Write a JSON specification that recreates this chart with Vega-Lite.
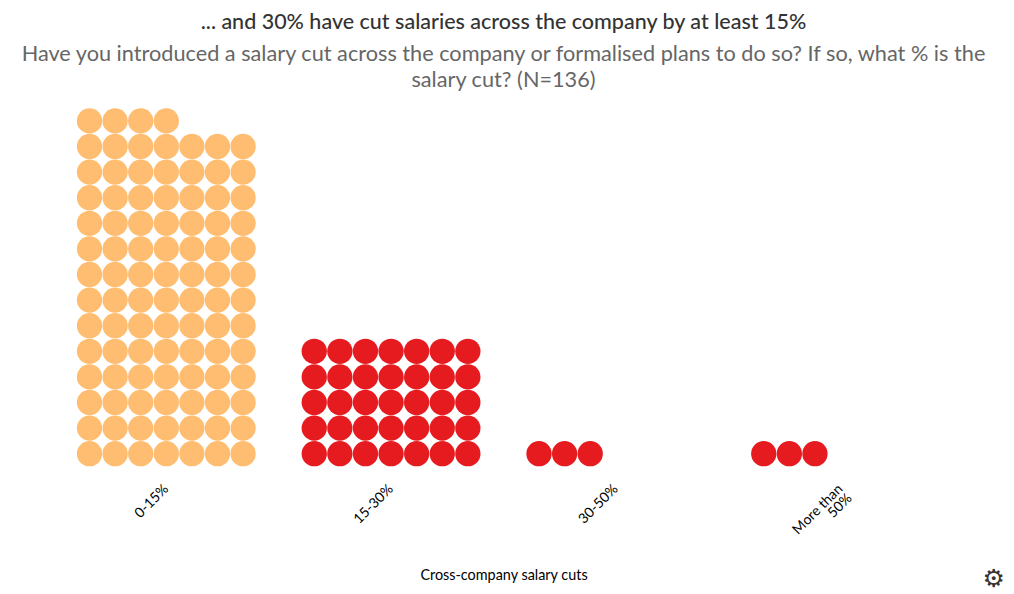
{
  "$schema": "https://vega.github.io/schema/vega-lite/v6.json",
  "autosize": "none",
  "padding": {"left": 54, "top": 82.5, "right": 61, "bottom": 127.5},
  "width": 899,
  "height": 384,
  "background": "white",
  "title": {
    "text": "... and 30% have cut salaries across the company by at least 15%",
    "subtitle": ["Have you introduced a salary cut across the company or formalised plans to do so?  If so, what % is the", "salary cut? (N=136)"],
    "anchor": "middle",
    "font": "Lato",
    "fontSize": 21.5,
    "fontWeight": 500,
    "color": "#333333",
    "subtitleFont": "Lato",
    "subtitleFontSize": 21.7,
    "subtitleColor": "#666666",
    "subtitleLineHeight": 26,
    "subtitlePadding": 11,
    "offset": -9.5
  },
  "datasets": {
    "dots": [
      {"cut":"0-15%","col":0,"row":0},{"cut":"0-15%","col":1,"row":0},{"cut":"0-15%","col":2,"row":0},{"cut":"0-15%","col":3,"row":0},{"cut":"0-15%","col":4,"row":0},{"cut":"0-15%","col":5,"row":0},{"cut":"0-15%","col":6,"row":0},
      {"cut":"0-15%","col":0,"row":1},{"cut":"0-15%","col":1,"row":1},{"cut":"0-15%","col":2,"row":1},{"cut":"0-15%","col":3,"row":1},{"cut":"0-15%","col":4,"row":1},{"cut":"0-15%","col":5,"row":1},{"cut":"0-15%","col":6,"row":1},
      {"cut":"0-15%","col":0,"row":2},{"cut":"0-15%","col":1,"row":2},{"cut":"0-15%","col":2,"row":2},{"cut":"0-15%","col":3,"row":2},{"cut":"0-15%","col":4,"row":2},{"cut":"0-15%","col":5,"row":2},{"cut":"0-15%","col":6,"row":2},
      {"cut":"0-15%","col":0,"row":3},{"cut":"0-15%","col":1,"row":3},{"cut":"0-15%","col":2,"row":3},{"cut":"0-15%","col":3,"row":3},{"cut":"0-15%","col":4,"row":3},{"cut":"0-15%","col":5,"row":3},{"cut":"0-15%","col":6,"row":3},
      {"cut":"0-15%","col":0,"row":4},{"cut":"0-15%","col":1,"row":4},{"cut":"0-15%","col":2,"row":4},{"cut":"0-15%","col":3,"row":4},{"cut":"0-15%","col":4,"row":4},{"cut":"0-15%","col":5,"row":4},{"cut":"0-15%","col":6,"row":4},
      {"cut":"0-15%","col":0,"row":5},{"cut":"0-15%","col":1,"row":5},{"cut":"0-15%","col":2,"row":5},{"cut":"0-15%","col":3,"row":5},{"cut":"0-15%","col":4,"row":5},{"cut":"0-15%","col":5,"row":5},{"cut":"0-15%","col":6,"row":5},
      {"cut":"0-15%","col":0,"row":6},{"cut":"0-15%","col":1,"row":6},{"cut":"0-15%","col":2,"row":6},{"cut":"0-15%","col":3,"row":6},{"cut":"0-15%","col":4,"row":6},{"cut":"0-15%","col":5,"row":6},{"cut":"0-15%","col":6,"row":6},
      {"cut":"0-15%","col":0,"row":7},{"cut":"0-15%","col":1,"row":7},{"cut":"0-15%","col":2,"row":7},{"cut":"0-15%","col":3,"row":7},{"cut":"0-15%","col":4,"row":7},{"cut":"0-15%","col":5,"row":7},{"cut":"0-15%","col":6,"row":7},
      {"cut":"0-15%","col":0,"row":8},{"cut":"0-15%","col":1,"row":8},{"cut":"0-15%","col":2,"row":8},{"cut":"0-15%","col":3,"row":8},{"cut":"0-15%","col":4,"row":8},{"cut":"0-15%","col":5,"row":8},{"cut":"0-15%","col":6,"row":8},
      {"cut":"0-15%","col":0,"row":9},{"cut":"0-15%","col":1,"row":9},{"cut":"0-15%","col":2,"row":9},{"cut":"0-15%","col":3,"row":9},{"cut":"0-15%","col":4,"row":9},{"cut":"0-15%","col":5,"row":9},{"cut":"0-15%","col":6,"row":9},
      {"cut":"0-15%","col":0,"row":10},{"cut":"0-15%","col":1,"row":10},{"cut":"0-15%","col":2,"row":10},{"cut":"0-15%","col":3,"row":10},{"cut":"0-15%","col":4,"row":10},{"cut":"0-15%","col":5,"row":10},{"cut":"0-15%","col":6,"row":10},
      {"cut":"0-15%","col":0,"row":11},{"cut":"0-15%","col":1,"row":11},{"cut":"0-15%","col":2,"row":11},{"cut":"0-15%","col":3,"row":11},{"cut":"0-15%","col":4,"row":11},{"cut":"0-15%","col":5,"row":11},{"cut":"0-15%","col":6,"row":11},
      {"cut":"0-15%","col":0,"row":12},{"cut":"0-15%","col":1,"row":12},{"cut":"0-15%","col":2,"row":12},{"cut":"0-15%","col":3,"row":12},{"cut":"0-15%","col":4,"row":12},{"cut":"0-15%","col":5,"row":12},{"cut":"0-15%","col":6,"row":12},
      {"cut":"0-15%","col":0,"row":13},{"cut":"0-15%","col":1,"row":13},{"cut":"0-15%","col":2,"row":13},{"cut":"0-15%","col":3,"row":13},
      {"cut":"15-30%","col":0,"row":0},{"cut":"15-30%","col":1,"row":0},{"cut":"15-30%","col":2,"row":0},{"cut":"15-30%","col":3,"row":0},{"cut":"15-30%","col":4,"row":0},{"cut":"15-30%","col":5,"row":0},{"cut":"15-30%","col":6,"row":0},
      {"cut":"15-30%","col":0,"row":1},{"cut":"15-30%","col":1,"row":1},{"cut":"15-30%","col":2,"row":1},{"cut":"15-30%","col":3,"row":1},{"cut":"15-30%","col":4,"row":1},{"cut":"15-30%","col":5,"row":1},{"cut":"15-30%","col":6,"row":1},
      {"cut":"15-30%","col":0,"row":2},{"cut":"15-30%","col":1,"row":2},{"cut":"15-30%","col":2,"row":2},{"cut":"15-30%","col":3,"row":2},{"cut":"15-30%","col":4,"row":2},{"cut":"15-30%","col":5,"row":2},{"cut":"15-30%","col":6,"row":2},
      {"cut":"15-30%","col":0,"row":3},{"cut":"15-30%","col":1,"row":3},{"cut":"15-30%","col":2,"row":3},{"cut":"15-30%","col":3,"row":3},{"cut":"15-30%","col":4,"row":3},{"cut":"15-30%","col":5,"row":3},{"cut":"15-30%","col":6,"row":3},
      {"cut":"15-30%","col":0,"row":4},{"cut":"15-30%","col":1,"row":4},{"cut":"15-30%","col":2,"row":4},{"cut":"15-30%","col":3,"row":4},{"cut":"15-30%","col":4,"row":4},{"cut":"15-30%","col":5,"row":4},{"cut":"15-30%","col":6,"row":4},
      {"cut":"30-50%","col":0,"row":0},{"cut":"30-50%","col":1,"row":0},{"cut":"30-50%","col":2,"row":0},
      {"cut":"More than 50%","col":0,"row":0},{"cut":"More than 50%","col":1,"row":0},{"cut":"More than 50%","col":2,"row":0}
    ],
    "menu": [{"icon": "⚙"}]
  },
  "layer": [
    {
      "data": {"name": "dots"},
      "mark": {"type": "point", "shape": "circle", "filled": true, "opacity": 1, "size": 640},
      "encoding": {
        "x": {
          "field": "cut",
          "type": "nominal",
          "sort": ["0-15%", "15-30%", "30-50%", "More than 50%"],
          "scale": {"paddingInner": 0, "paddingOuter": 0},
          "title": "Cross-company salary cuts",
          "axis": {
            "domain": false,
            "ticks": false,
            "labelAngle": -45,
            "labelAlign": "right",
            "labelBaseline": "middle",
            "labelPadding": 20,
            "labelFont": "Lato",
            "labelFontSize": 14,
            "labelColor": "#000000",
            "labelLineHeight": 13,
            "labelExpr": "datum.label == 'More than 50%' ? ['More than', '50%'] : datum.label",
            "titleFont": "Lato",
            "titleFontSize": 14.4,
            "titleFontWeight": "normal",
            "titleColor": "#000000",
            "titlePadding": 23
          }
        },
        "xOffset": {
          "field": "col",
          "type": "ordinal",
          "scale": {"type": "point", "domain": [0, 1, 2, 3, 4, 5, 6], "range": [35.5, 189.1], "padding": 0}
        },
        "y": {
          "field": "row",
          "type": "quantitative",
          "scale": {"domain": [-0.5, 14.5], "nice": false, "zero": false},
          "axis": null
        },
        "color": {
          "field": "cut",
          "type": "nominal",
          "scale": {
            "domain": ["0-15%", "15-30%", "30-50%", "More than 50%"],
            "range": ["#FFBD71", "#E61B1F", "#E61B1F", "#E61B1F"]
          },
          "legend": null
        }
      }
    },
    {
      "data": {"name": "menu"},
      "mark": {"type": "text", "font": "DejaVu Sans", "fontSize": 25, "fontWeight": "bold", "color": "#333333", "dx": 153, "clip": false},
      "encoding": {
        "x": {"datum": "More than 50%", "type": "nominal"},
        "y": {"datum": -4.88, "type": "quantitative"},
        "text": {"field": "icon"}
      }
    }
  ],
  "view": {"stroke": null}
}
